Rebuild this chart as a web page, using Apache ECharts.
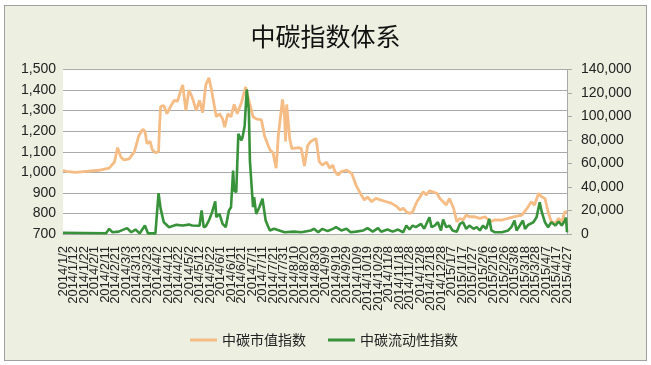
<!DOCTYPE html>
<html><head><meta charset="utf-8">
<script src="https://cdn.jsdelivr.net/npm/echarts@6/dist/echarts.min.js"></script>
<style>
html,body{margin:0;padding:0;background:#ffffff;}
#frame{position:absolute;left:4px;top:5px;width:641px;height:354px;border:1px solid #A0A0A0;background:#EDF0E1;}
#c{position:absolute;left:0;top:0;width:651px;height:365px;}
</style>
</head><body><div id="frame"></div><div id="c"></div>
<script>
const titleText = '中碳指数体系';
const seriesNames = ['中碳市值指数', '中碳流动性指数'];

const tickLabels = ['2014/1/2','2014/1/12','2014/1/22','2014/2/1','2014/2/11','2014/2/21','2014/3/3','2014/3/13','2014/3/23','2014/4/2','2014/4/12','2014/4/22','2014/5/2','2014/5/12','2014/5/22','2014/6/1','2014/6/11','2014/6/21','2014/7/1','2014/7/11','2014/7/21','2014/7/31','2014/8/10','2014/8/20','2014/8/30','2014/9/9','2014/9/19','2014/9/29','2014/10/9','2014/10/19','2014/10/29','2014/11/8','2014/11/18','2014/11/28','2014/12/8','2014/12/18','2014/12/28','2015/1/7','2015/1/17','2015/1/27','2015/2/6','2015/2/16','2015/2/26','2015/3/8','2015/3/18','2015/3/28','2015/4/7','2015/4/17','2015/4/27'];

const leftTicks = [700, 800, 900, 1000, 1100, 1200, 1300, 1400, 1500];
const rightTicks = [0, 20000, 40000, 60000, 80000, 100000, 120000, 140000];

const capDates = ['2014/1/2','2014/1/5','2014/1/14','2014/1/24','2014/2/5','2014/2/15','2014/2/20','2014/2/23','2014/2/26','2014/3/1','2014/3/6','2014/3/11','2014/3/15','2014/3/19','2014/3/21','2014/3/23','2014/3/26','2014/3/28','2014/3/31',
'2014/4/3','2014/4/4','2014/4/5','2014/4/8','2014/4/11','2014/4/15','2014/4/18','2014/4/21','2014/4/24','2014/4/26','2014/4/29',
'2014/5/2','2014/5/5','2014/5/9','2014/5/12','2014/5/15','2014/5/18','2014/5/21','2014/5/24','2014/5/28','2014/5/31',
'2014/6/3','2014/6/5','2014/6/8','2014/6/11','2014/6/14','2014/6/17','2014/6/21','2014/6/25','2014/6/29',
'2014/7/2','2014/7/5','2014/7/10','2014/7/13','2014/7/18','2014/7/21','2014/7/24','2014/7/26','2014/7/30',
'2014/8/1','2014/8/2','2014/8/3','2014/8/6','2014/8/8','2014/8/14','2014/8/17','2014/8/20','2014/8/23','2014/8/26','2014/8/31',
'2014/9/3','2014/9/6','2014/9/10','2014/9/13','2014/9/16','2014/9/18','2014/9/21','2014/9/24','2014/9/29',
'2014/10/4','2014/10/8','2014/10/13','2014/10/16','2014/10/19','2014/10/23','2014/10/27',
'2014/11/1','2014/11/6','2014/11/11','2014/11/16','2014/11/19','2014/11/22','2014/11/25','2014/11/28',
'2014/12/1','2014/12/5','2014/12/8','2014/12/11','2014/12/14','2014/12/17','2014/12/20','2014/12/24','2014/12/27','2014/12/30',
'2015/1/2','2015/1/5','2015/1/9','2015/1/12','2015/1/15','2015/1/18','2015/1/21','2015/1/24','2015/1/29',
'2015/2/3','2015/2/8','2015/2/13','2015/2/17','2015/2/24',
'2015/3/2','2015/3/8','2015/3/15','2015/3/20','2015/3/24','2015/3/27','2015/3/31',
'2015/4/3','2015/4/6','2015/4/9','2015/4/12','2015/4/16','2015/4/19','2015/4/22','2015/4/25','2015/4/27'];
const capValues = [1010,1005,1000,1005,1010,1020,1050,1120,1075,1060,1065,1100,1175,1210,1200,1140,1150,1110,1095,
1100,1230,1320,1325,1285,1325,1350,1345,1395,1425,1300,
1400,1365,1300,1350,1290,1425,1460,1385,1270,1285,
1260,1220,1285,1270,1330,1285,1340,1415,1330,
1270,1260,1255,1175,1110,1095,1020,1175,1355,
1270,1150,1330,1160,1115,1120,1115,1030,1130,1150,1165,
1052,1035,1050,1020,1035,1003,987,1003,1010,
995,938,890,865,880,857,873,
865,857,849,833,817,825,808,800,
808,857,880,905,890,910,905,898,873,857,
841,873,825,760,776,768,792,784,784,
776,784,760,768,768,
776,784,792,825,857,841,898,
880,873,808,760,752,776,760,808,808];

const liqDates = ['2014/1/2','2014/2/12','2014/2/15','2014/2/18','2014/2/24','2014/3/4','2014/3/8','2014/3/12','2014/3/16','2014/3/21','2014/3/24','2014/3/31',
'2014/4/3','2014/4/5','2014/4/8','2014/4/13','2014/4/20','2014/4/26',
'2014/5/2','2014/5/5','2014/5/12','2014/5/14','2014/5/16','2014/5/18','2014/5/21','2014/5/24','2014/5/27','2014/5/28','2014/5/31',
'2014/6/3','2014/6/6','2014/6/9','2014/6/11','2014/6/13','2014/6/14','2014/6/16','2014/6/18','2014/6/21','2014/6/22','2014/6/24','2014/6/26','2014/6/28','2014/6/29',
'2014/7/2','2014/7/3','2014/7/5','2014/7/8','2014/7/11','2014/7/14','2014/7/18','2014/7/22',
'2014/8/1','2014/8/10','2014/8/17','2014/8/26','2014/8/29',
'2014/9/2','2014/9/6','2014/9/11','2014/9/16','2014/9/19','2014/9/24','2014/9/29',
'2014/10/3','2014/10/8','2014/10/15','2014/10/19','2014/10/24','2014/10/29',
'2014/11/1','2014/11/7','2014/11/12','2014/11/17','2014/11/22','2014/11/25','2014/11/28',
'2014/12/1','2014/12/4','2014/12/9','2014/12/12','2014/12/17','2014/12/19','2014/12/22','2014/12/25','2014/12/28','2014/12/30',
'2015/1/2','2015/1/5','2015/1/8','2015/1/12','2015/1/15','2015/1/18','2015/1/21','2015/1/24','2015/1/28','2015/1/31',
'2015/2/3','2015/2/6','2015/2/9','2015/2/12','2015/2/14','2015/2/17','2015/2/24',
'2015/3/2','2015/3/5','2015/3/8','2015/3/10','2015/3/13','2015/3/16','2015/3/18','2015/3/21','2015/3/26','2015/3/29',
'2015/4/1','2015/4/3','2015/4/6','2015/4/9','2015/4/12','2015/4/16','2015/4/19','2015/4/22','2015/4/25','2015/4/26','2015/4/27'];
const liqValues = [1000,700,4400,1500,2000,5000,1500,3800,500,7200,500,500,
34800,21400,10000,5800,7800,7200,
8000,7200,7000,20000,5800,6500,11500,18600,27700,14300,17200,
8700,5800,20000,22800,54000,37000,35600,85200,79600,82400,92000,123000,105000,62500,
22800,31300,17100,22800,30000,11500,3000,4400,
1500,2000,1500,3000,4400,
1500,4400,2400,4400,5800,3000,4400,
1500,2000,3000,5000,2000,5000,
2000,3800,2000,3800,1500,7200,3800,
7200,5800,8600,4400,14300,5800,7200,10000,3000,12300,
5800,7200,3000,2000,8600,10000,4400,7200,4400,5800,
3000,7200,4400,12900,3000,1500,1500,
3000,5800,11500,3000,7200,11500,4400,7800,10000,14300,
27100,18600,10000,5800,10000,7200,10600,7200,11500,14000,1500];

const t0 = Date.UTC(2014, 0, 2);
function day(s) {
  const p = s.split('/').map(Number);
  return Math.round((Date.UTC(p[0], p[1] - 1, p[2]) - t0) / 86400000);
}
const lastDay = day(tickLabels[tickLabels.length - 1]);
const capData = capDates.map((d, i) => [day(d), capValues[i]]);
const liqData = liqDates.map((d, i) => [day(d), liqValues[i]]);

const fmt = v => Number(v).toLocaleString('en-US');
const gridColor = '#A9A9A9';

const chart = echarts.init(document.getElementById('c'), null, { renderer: 'canvas' });
chart.setOption({
  animation: false,
  backgroundColor: 'transparent',
  title: {
    text: titleText, left: 'center', top: 19,
    textStyle: { fontFamily: 'Noto Sans CJK SC', fontSize: 25, fontWeight: 'normal', color: '#111' }
  },
  grid: { left: 63, right: 84, top: 69.5, bottom: 131, show: true, backgroundColor: '#ffffff', borderWidth: 0 },
  legend: {
    data: seriesNames, left: 185, top: 328, icon: 'rect', itemWidth: 27, itemHeight: 3, itemGap: 22,
    textStyle: { fontFamily: 'Noto Sans CJK SC', fontSize: 14, color: '#222' }
  },
  xAxis: [
    {
      type: 'value', min: 0, max: lastDay, position: 'bottom',
      axisLine: { show: true, lineStyle: { color: gridColor } },
      axisTick: { show: false },
      splitLine: { show: false },
      axisLabel: { show: false }
    },
    {
      type: 'category', data: tickLabels, boundaryGap: false, position: 'bottom',
      axisLine: { show: false }, axisTick: { show: false }, splitLine: { show: false },
      axisLabel: {
        interval: 0, rotate: 90, margin: 12,
        fontFamily: 'Liberation Sans', fontSize: 13, color: '#222'
      }
    }
  ],
  yAxis: [
    {
      type: 'value', min: leftTicks[0], max: leftTicks[leftTicks.length - 1], interval: 100,
      axisLine: { show: false }, axisTick: { show: false },
      splitLine: { show: true, lineStyle: { color: gridColor, width: 1 } },
      axisLabel: { formatter: fmt, fontFamily: 'Liberation Sans', fontSize: 14, color: '#222', margin: 7 }
    },
    {
      type: 'value', position: 'right', min: rightTicks[0], max: rightTicks[rightTicks.length - 1], interval: 20000,
      axisLine: { show: true, lineStyle: { color: gridColor } },
      axisTick: { show: true, length: 5, inside: false, lineStyle: { color: gridColor } },
      splitLine: { show: false },
      axisLabel: { formatter: fmt, fontFamily: 'Liberation Sans', fontSize: 14, color: '#222', margin: 14 }
    }
  ],
  series: [
    {
      name: seriesNames[0], type: 'line', xAxisIndex: 0, yAxisIndex: 0, data: capData, showSymbol: false,
      lineStyle: { color: '#F5BC85', width: 2.8 }, itemStyle: { color: '#F5BC85' }
    },
    {
      name: seriesNames[1], type: 'line', xAxisIndex: 0, yAxisIndex: 1, data: liqData, showSymbol: false,
      lineStyle: { color: '#37923A', width: 2.6 }, itemStyle: { color: '#37923A' }
    }
  ]
});
</script>
</body></html>
